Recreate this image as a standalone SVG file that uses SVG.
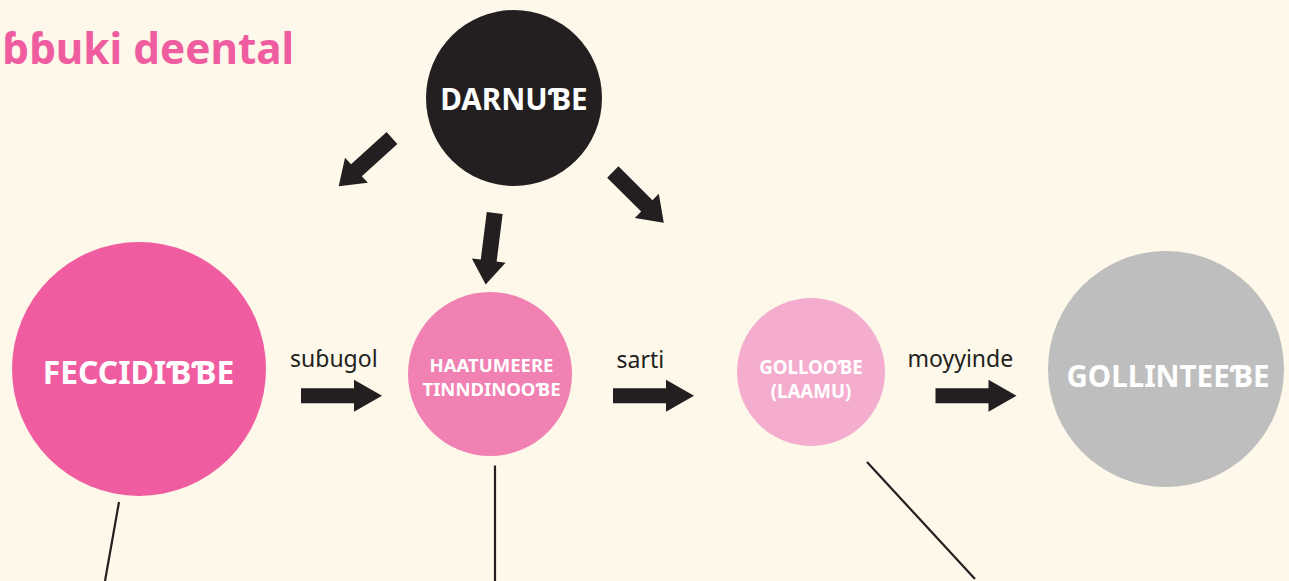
<svg xmlns="http://www.w3.org/2000/svg" xmlns:xlink="http://www.w3.org/1999/xlink" width="1289" height="581" viewBox="0 0 1289 581">
  <style>
    .lbl { font-family: "Noto Sans", "Open Sans", sans-serif; fill: #231F20; font-size: 23px; }
    .nt { font-family: "Noto Sans", "Open Sans", sans-serif; font-weight: bold; fill: #FFFFFF; text-anchor: middle; }
    .title { font-family: "Noto Sans", "Open Sans", sans-serif; font-weight: bold; fill: #EF5DA0; font-size: 42.3px; }
    .arrow { fill: #231F20; }
    .line { stroke: #231F20; stroke-width: 2.2; fill: none; }
  </style>
  <defs>
    <path id="harrow" d="M0,-7.5 L53,-7.5 L53,-16 L81,0 L53,16 L53,7.5 L0,7.5 Z"/>
    <path id="darrow" d="M0,-8 L48,-8 L48,-17 L72,0 L48,17 L48,8 L0,8 Z"/>
  </defs>
  <rect x="0" y="0" width="1289" height="581" fill="#FDF8E9"/>
  <text class="title" x="2" y="63.5">ɓɓuki deental</text>

  <g id="connectors">
    <use xlink:href="#darrow" class="arrow" transform="translate(392,138) rotate(137.8)"/>
    <use xlink:href="#darrow" class="arrow" transform="translate(494.7,213) rotate(97.2)"/>
    <use xlink:href="#darrow" class="arrow" transform="translate(612.8,172) rotate(44.9)"/>
    <use xlink:href="#harrow" class="arrow" transform="translate(301,395.7)"/>
    <use xlink:href="#harrow" class="arrow" transform="translate(613,395.7)"/>
    <use xlink:href="#harrow" class="arrow" transform="translate(935.5,395.7)"/>
    <text class="lbl" x="290" y="366.5">suɓugol</text>
    <text class="lbl" x="616.5" y="368">sarti</text>
    <text class="lbl" x="907.5" y="366.5">moyyinde</text>
    <line class="line" x1="119" y1="502" x2="105" y2="581"/>
    <line class="line" x1="495" y1="465.5" x2="495" y2="581"/>
    <line class="line" x1="867" y1="462" x2="975" y2="579"/>
  </g>

  <g id="node-darnube">
    <circle cx="514" cy="98" r="88" fill="#231F20"/>
    <text class="nt" x="514" y="109.5" font-size="29.6">DARNUƁE</text>
  </g>
  <g id="node-feccidibbe">
    <circle cx="139" cy="369" r="127" fill="#EF5DA0"/>
    <text class="nt" x="138.5" y="383.5" font-size="31.8">FECCIDIƁƁE</text>
  </g>
  <g id="node-haatumeere">
    <circle cx="490" cy="374" r="82" fill="#F081B2"/>
    <text class="nt" x="491.5" y="371.5" font-size="18.5">HAATUMEERE</text>
    <text class="nt" x="491.5" y="396" font-size="18.5">TINNDINOOƁE</text>
  </g>
  <g id="node-gollobe">
    <circle cx="811" cy="372" r="74" fill="#F4ADCE"/>
    <text class="nt" x="811" y="373.5" font-size="18.7">GOLLOOƁE</text>
    <text class="nt" x="811" y="398" font-size="18.7">(LAAMU)</text>
  </g>
  <g id="node-gollinteebe">
    <circle cx="1166" cy="369" r="118" fill="#BEBEBE"/>
    <text class="nt" x="1168" y="386.5" font-size="29.5">GOLLINTEEƁE</text>
  </g>
</svg>
